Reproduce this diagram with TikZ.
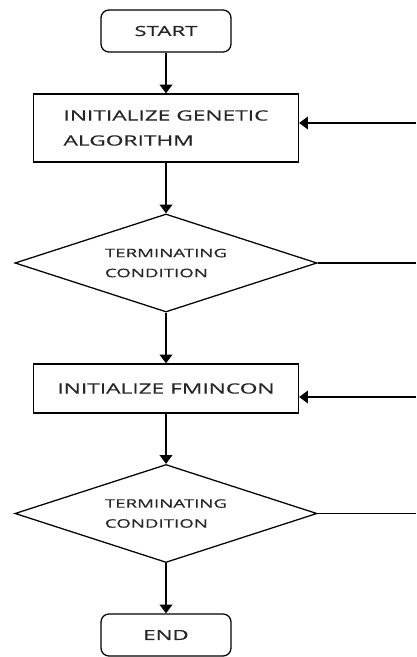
\documentclass[tikz,border=0pt]{standalone}
\usepackage{fontspec}
\newfontfamily\flowfont[FakeStretch=1.6,FakeBold=0.4]{Open Sans}
\usetikzlibrary{shapes.geometric,arrows.meta}
\begin{document}
\begin{tikzpicture}[x=0.025cm,y=-0.025cm,line width=0.9pt,
  >={Triangle[width=0.32cm,length=0.22cm]},
  term/.style={draw,rounded corners=0.2cm,minimum width=3.25cm,minimum height=1.05cm,
    text=black!85,font=\flowfont\fontsize{9.9}{12}\selectfont},
  proc/.style={draw,minimum width=6.625cm,inner sep=0pt,
    text=black!85,font=\flowfont\fontsize{10.1}{17.8}\selectfont},
  cond/.style={draw,diamond,shape aspect=3.08,minimum width=7.55cm,minimum height=2.45cm,
    inner sep=0pt,align=left,text=black!85,font=\flowfont\fontsize{8.3}{14.2}\selectfont}]

\useasboundingbox (0,0) rectangle (416,657);

\node[term] (start) at (166,31) {START};
\node[proc,minimum height=1.7cm,align=left] (initga) at (166,128) {INITIALIZE GENETIC\\ALGORITHM};
\node[cond] (cond1) at (166,263) {TERMINATING\\CONDITION};
\node[proc,minimum height=1.225cm] (initfm) at (166,388.5) {INITIALIZE FMINCON};
\node[cond] (cond2) at (166,513.5) {TERMINATING\\CONDITION};
\node[term] (end) at (166,635) {END};

\coordinate (gain) at (416,123);
\coordinate (condout1) at (416,263);
\coordinate (fmin) at (416,397);
\coordinate (condout2) at (416,513.5);

\draw[->] (start) -- (initga);
\draw[->] (initga) -- (cond1);
\draw[->] (cond1) -- (initfm);
\draw[->] (initfm) -- (cond2);
\draw[->] (cond2) -- (end);

\draw[->] (gain) -- (gain -| initga.east);
\draw (cond1.east) -- (condout1);
\draw[->] (fmin) -- (fmin -| initfm.east);
\draw (cond2.east) -- (condout2);
\end{tikzpicture}
\end{document}
